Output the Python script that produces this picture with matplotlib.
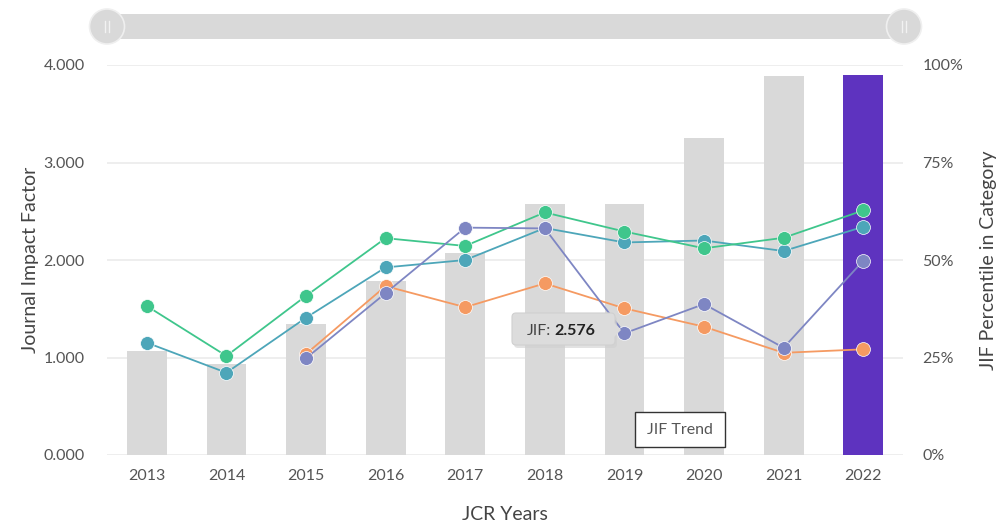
import matplotlib.pyplot as plt
from matplotlib.patches import FancyBboxPatch, Rectangle, Circle, Polygon
import numpy as np

plt.rcParams['font.family'] = ['Lato', 'DejaVu Sans']

# data
years = ['2013', '2014', '2015', '2016', '2017', '2018', '2019', '2020', '2021', '2022']
jif = [1.07, 0.93, 1.34, 1.78, 2.07, 2.576, 2.57, 3.25, 3.89, 3.90]

# JIF percentile per category (None = no value)
pct_green = [38.2, 25.4, 40.8, 55.6, 53.6, 62.2, 57.3, 53.0, 55.7, 62.7]
pct_teal = [28.8, 21.1, 35.2, 48.1, 50.0, 58.2, 54.5, 55.0, 52.3, 58.5]
pct_orange = [None, None, 25.9, 43.3, 37.9, 44.0, 37.6, 32.9, 26.2, 27.1]
pct_purple = [None, None, 24.8, 41.5, 58.3, 58.1, 31.2, 38.7, 27.5, 49.8]

left_ticks = [0, 1, 2, 3, 4]
left_labels = ['0.000', '1.000', '2.000', '3.000', '4.000']
right_ticks = [0, 25, 50, 75, 100]
right_labels = ['0%', '25%', '50%', '75%', '100%']

GRAY_BAR = '#d9d9d9'
CURRENT_BAR = '#5e33bf'
TXT = '#555555'

W, H = 999, 526
fig = plt.figure(figsize=(W / 100, H / 100), dpi=100)
ax = fig.add_axes([107 / W, (H - 455) / H, (903 - 107) / W, (455 - 65) / H])
ax2 = ax.twinx()

x = np.arange(len(years))
bar_colors = [GRAY_BAR] * (len(years) - 1) + [CURRENT_BAR]
ax.bar(x, jif, width=0.5, color=bar_colors, zorder=2)

ax.set_xlim(-0.5, len(years) - 0.5)
ax.set_ylim(0, 4)
ax2.set_ylim(0, 100)

for t in left_ticks:
    ax.axhline(t, color='#ebebeb', lw=1.2, zorder=0)

ax.set_yticks(left_ticks)
ax.set_yticklabels(left_labels)
ax2.set_yticks(right_ticks)
ax2.set_yticklabels(right_labels)
ax.set_xticks(x)
ax.set_xticklabels(years)

for a in (ax, ax2):
    for s in a.spines.values():
        s.set_visible(False)
    a.tick_params(length=0, labelsize=11.5, labelcolor=TXT)
ax.tick_params(axis='x', pad=10)
ax.tick_params(axis='y', pad=16)
ax2.tick_params(axis='y', pad=14)

ax.set_ylabel('Journal Impact Factor', fontsize=14, color='#444444', labelpad=3)
ax2.set_ylabel('JIF Percentile in Category', fontsize=14, color='#444444', labelpad=12)
ax.set_xlabel('JCR Years', fontsize=14, color='#444444', labelpad=17)

# percentile lines
def to_arr(v):
    return np.array([np.nan if p is None else p for p in v], dtype=float)

series = [
    (pct_teal, '#4da6b9'),
    (pct_green, '#3fc68c'),
    (pct_orange, '#f59a62'),
    (pct_purple, '#7e86c3'),
]
for vals, col in series:
    ax2.plot(x, to_arr(vals), color=col, lw=1.3, marker='o', markersize=10,
             markeredgecolor='white', markeredgewidth=0.5, zorder=3)

ax.set_zorder(ax2.get_zorder() - 1)
ax.patch.set_visible(True)
ax2.patch.set_visible(False)

# overlay in pixel coords for slider and tooltips
ov = fig.add_axes([0, 0, 1, 1], zorder=10)
ov.set_xlim(0, W)
ov.set_ylim(H, 0)
ov.axis('off')
ov.patch.set_visible(False)

ov.add_patch(Rectangle((107, 14), 903 - 107, 25, color='#d9d9d9', lw=0))
for cx in (107, 904):
    ov.add_patch(Circle((cx, 26.5), 17.5, facecolor='#d9d9d9', edgecolor='#efefef', lw=1.2))
    ov.plot([cx - 2, cx - 2], [21, 32], color='#f2f2f2', lw=1)
    ov.plot([cx + 2, cx + 2], [21, 32], color='#f2f2f2', lw=1)

# hover tooltip
ov.add_patch(FancyBboxPatch((514, 316), 103, 32, boxstyle='round,pad=0,rounding_size=4',
                            facecolor='#cfcfcf', edgecolor='none', alpha=0.6))
ov.add_patch(FancyBboxPatch((512, 313), 103, 32, boxstyle='round,pad=0,rounding_size=4',
                            facecolor='#dcdcdc', edgecolor='#d0d0d0', lw=0.8))
ov.add_patch(Polygon([[614, 323], [621, 330], [614, 337]], closed=True,
                     facecolor='#dcdcdc', edgecolor='none'))
ov.text(527, 331, 'JIF:', fontsize=11.5, color='#444444', va='center', ha='left')
ov.text(554, 331, '2.576', fontsize=11.5, color='#222222', fontweight='bold', va='center', ha='left')

# legend-like box
ov.add_patch(Rectangle((635, 412), 90, 35, facecolor='white', edgecolor='#333333', lw=1))
ov.text(680, 430, 'JIF Trend', fontsize=11.5, color='#555555', va='center', ha='center')

fig.savefig('out.png', dpi=100)
